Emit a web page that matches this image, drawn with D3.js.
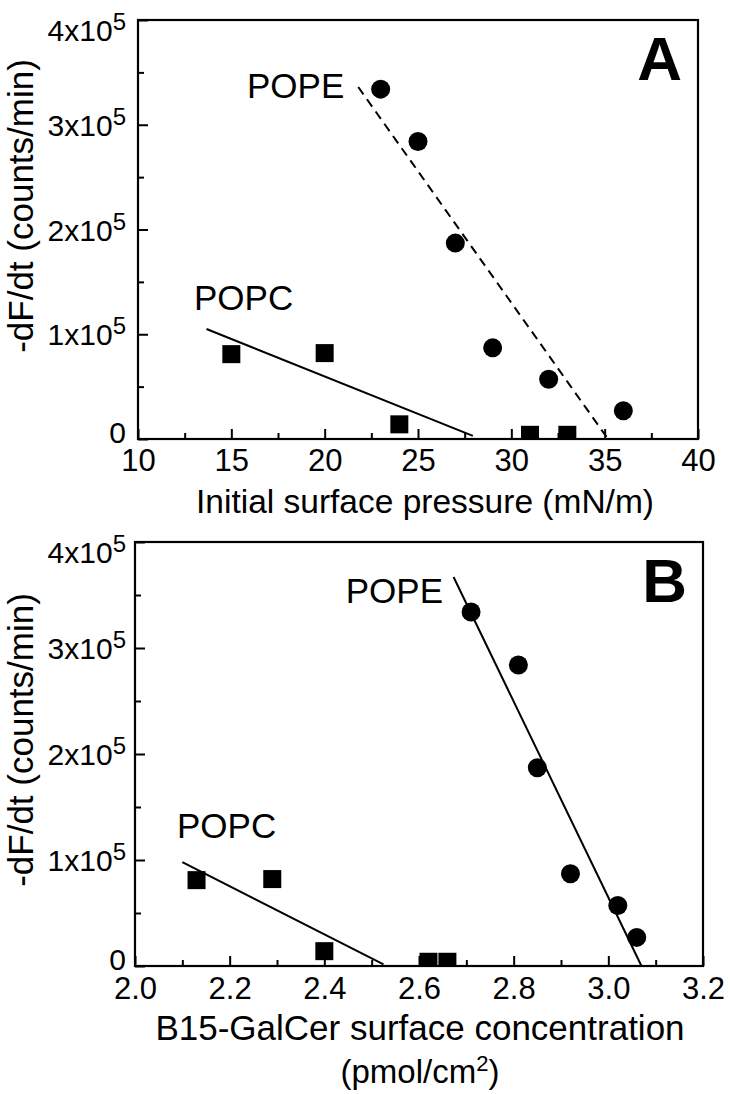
<!DOCTYPE html>
<html><head><meta charset="utf-8">
<script src="https://cdn.jsdelivr.net/npm/d3@7"></script>
<style>
html,body{margin:0;padding:0;background:#fff;}
svg text{font-family:"Liberation Sans",Arial,Helvetica,sans-serif;fill:#000;}
</style></head>
<body>
<svg id="chart" width="730" height="1094"></svg>
<script>
// ---- data ----
const pressureA = [23, 25, 27, 29, 32, 36];          // POPE, panel A x (mN/m)
const popeRate = [3.34e5, 2.84e5, 1.87e5, 0.87e5, 0.57e5, 0.27e5];
const pressureC = [15, 20, 24, 31, 33];              // POPC, panel A x
const popcRate = [0.81e5, 0.82e5, 0.14e5, 0.04e5, 0.04e5];
const concE = [2.71, 2.81, 2.85, 2.92, 3.02, 3.06];  // POPE, panel B x (pmol/cm2)
const concC = [2.13, 2.29, 2.40, 2.62, 2.66];        // POPC, panel B x
const fitPopeA = [[21.8, 3.36e5], [35.1, 0.02e5]];
const fitPopcA = [[13.67, 1.05e5], [27.94, 0.03e5]];
const fitPopeB = [[2.673, 3.67e5], [3.07, 0]];
const fitPopcB = [[2.10, 0.98e5], [2.525, 0.015e5]];
const yMajor = [0, 1e5, 2e5, 3e5, 4e5];
const yMinor = [0.5e5, 1.5e5, 2.5e5, 3.5e5];
const xMajorA = [10, 15, 20, 25, 30, 35, 40];
const xMinorA = [12.5, 17.5, 22.5, 27.5, 32.5, 37.5];
const xMajorB = [2.0, 2.2, 2.4, 2.6, 2.8, 3.0, 3.2];
const xMinorB = [2.1, 2.3, 2.5, 2.7, 2.9, 3.1];

const svg = d3.select("#chart");

function panel(cfg) {
  const {left, right, top, bottom, xDomain, xMajor, xMinor, xFmt, id} = cfg;
  const x = d3.scaleLinear().domain(xDomain).range([left, right]);
  const y = d3.scaleLinear().domain([0, 4e5]).range([bottom, top]);
  const g = svg.append("g");

  g.append("clipPath").attr("id", "clip" + id).append("rect")
    .attr("x", left).attr("y", top).attr("width", right - left).attr("height", bottom - top);

  // minor ticks
  g.append("g").attr("transform", `translate(0,${bottom})`)
    .call(d3.axisBottom(x).tickValues(xMinor).tickSize(-6).tickFormat(""))
    .call(s => s.select(".domain").remove());
  g.append("g").attr("transform", `translate(${left},0)`)
    .call(d3.axisLeft(y).tickValues(yMinor).tickSize(-6).tickFormat(""))
    .call(s => s.select(".domain").remove());
  // major ticks
  const xa = g.append("g").attr("transform", `translate(0,${bottom})`)
    .call(d3.axisBottom(x).tickValues(xMajor).tickSize(-10).tickPadding(cfg.xPad).tickFormat(xFmt))
    .call(s => s.select(".domain").remove());
  xa.selectAll("text").attr("font-size", 31).attr("font-family", null);
  const ya = g.append("g").attr("transform", `translate(${left},0)`)
    .call(d3.axisLeft(y).tickValues(yMajor).tickSize(-10).tickPadding(cfg.yPad).tickFormat(""))
    .call(s => s.select(".domain").remove());
  ya.selectAll("text").attr("font-size", 30).attr("font-family", null)
    .attr("dy", d => d === 0 ? "0.1em" : d === 4e5 ? "0.68em" : "0.35em")
    .each(function(d) {
      const t = d3.select(this);
      if (d === 0) { t.text("0"); return; }
      t.append("tspan").text(`${d / 1e5}x10`);
      t.append("tspan").attr("font-size", 24).attr("dy", "-0.45em").text("5");
    });
  g.selectAll(".tick line").attr("stroke", "#000").attr("stroke-width", 2);

  // frame
  g.append("rect").attr("x", left).attr("y", top).attr("width", right - left).attr("height", bottom - top)
    .attr("fill", "none").attr("stroke", "#000").attr("stroke-width", 2.2);

  const line = d3.line().x(d => x(d[0])).y(d => y(d[1]));
  g.append("path").datum(cfg.fitPope).attr("d", line).attr("fill", "none").attr("stroke", "#000")
    .attr("stroke-width", 2).attr("stroke-dasharray", cfg.dashed ? "9,6" : null);
  g.append("path").datum(cfg.fitPopc).attr("d", line).attr("fill", "none").attr("stroke", "#000")
    .attr("stroke-width", 2);

  const marks = g.append("g").attr("clip-path", `url(#clip${id})`);
  marks.selectAll("circle").data(cfg.xE.map((v, i) => [v, popeRate[i]])).join("circle")
    .attr("cx", d => x(d[0])).attr("cy", d => y(d[1])).attr("r", 9.5).attr("fill", "#000");
  marks.selectAll("rect").data(cfg.xC.map((v, i) => [v, popcRate[i]])).join("rect")
    .attr("x", d => x(d[0]) - 9).attr("y", d => y(d[1]) - 9).attr("width", 18).attr("height", 18).attr("fill", "#000");

  // labels
  g.append("text").attr("x", cfg.popeLbl[0]).attr("y", cfg.popeLbl[1]).attr("font-size", 35)
    .attr("text-anchor", cfg.popeLbl[2]).text("POPE");
  g.append("text").attr("x", cfg.popcLbl[0]).attr("y", cfg.popcLbl[1]).attr("font-size", 35).text("POPC");
  g.append("text").attr("x", right - 16).attr("y", top + 60).attr("font-size", 62).attr("font-weight", "bold")
    .attr("text-anchor", "end").text(id);

  // y title
  g.append("text").attr("transform", `translate(33,${cfg.yTitleY}) rotate(-90)`).attr("text-anchor", "middle")
    .attr("font-size", 35).text("-dF/dt (counts/min)");
  return g;
}

const gA = panel({id: "A", left: 138, right: 698, top: 20, bottom: 439, xDomain: [10, 40],
  xMajor: xMajorA, xMinor: xMinorA, xFmt: d3.format("d"), xPad: 10, yPad: 12,
  fitPope: fitPopeA, fitPopc: fitPopcA, dashed: true, xE: pressureA, xC: pressureC,
  popeLbl: [247, 98, "start"], popcLbl: [194, 310], yTitleY: 206});
gA.append("text").attr("x", 425).attr("y", 513).attr("text-anchor", "middle").attr("font-size", 33.5)
  .text("Initial surface pressure (mN/m)");

const gB = panel({id: "B", left: 135, right: 703, top: 542, bottom: 966, xDomain: [2.0, 3.2],
  xMajor: xMajorB, xMinor: xMinorB, xFmt: d3.format(".1f"), xPad: 11, yPad: 9,
  fitPope: fitPopeB, fitPopc: fitPopcB, dashed: false, xE: concE, xC: concC,
  popeLbl: [443, 603, "end"], popcLbl: [177, 838], yTitleY: 740});
gB.append("text").attr("x", 420).attr("y", 1040).attr("text-anchor", "middle").attr("font-size", 35)
  .text("B15-GalCer surface concentration");
const t2 = gB.append("text").attr("x", 420).attr("y", 1083).attr("text-anchor", "middle").attr("font-size", 33);
t2.append("tspan").text("(pmol/cm");
t2.append("tspan").attr("font-size", 22).attr("dy", "-0.55em").text("2");
t2.append("tspan").attr("dy", "0.36em").text(")");
</script>
</body></html>
